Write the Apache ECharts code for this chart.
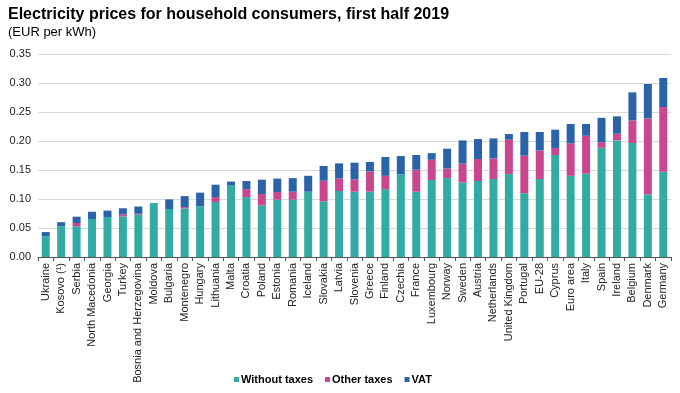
<!DOCTYPE html>
<html><head><meta charset="utf-8">
<script src="https://cdn.jsdelivr.net/npm/echarts@6/dist/echarts.min.js"></script>
<style>html,body{margin:0;padding:0;background:#fff}#c{width:680px;height:393px}</style>
</head><body><div id="c"></div>
<script>
const categories = ["Ukraine","Kosovo (¹)","Serbia","North Macedonia","Georgia","Turkey","Bosnia and Herzegovina","Moldova","Bulgaria","Montenegro","Hungary","Lithuania","Malta","Croatia","Poland","Estonia","Romania","Iceland","Slovakia","Latvia","Slovenia","Greece","Finland","Czechia","France","Luxembourg","Norway","Sweden","Austria","Netherlands","United Kingdom","Portugal","EU-28","Cyprus","Euro area","Italy","Spain","Ireland","Belgium","Denmark","Germany"];
const withoutTaxes = [0.036,0.053,0.053,0.0655,0.069,0.070,0.073,0.093,0.0828,0.0838,0.0873,0.0948,0.124,0.1034,0.089,0.0988,0.0988,0.1126,0.0959,0.1138,0.1126,0.1126,0.117,0.1424,0.1126,0.1327,0.136,0.1286,0.131,0.1345,0.143,0.110,0.1345,0.1759,0.140,0.1436,0.1884,0.201,0.1965,0.108,0.147];
const otherTaxes = [0,0,0.0056,0,0,0.0035,0.0015,0,0,0.0022,0,0.0086,0,0.0136,0.0196,0.0132,0.0138,0,0.0357,0.0217,0.0212,0.035,0.023,0,0.0379,0.035,0.0167,0.0323,0.038,0.0355,0.0592,0.0647,0.0493,0.0121,0.056,0.0654,0.0096,0.0116,0.039,0.131,0.1116];
const vat = [0.007,0.007,0.0109,0.0125,0.011,0.0105,0.0125,0,0.0165,0.019,0.0237,0.0213,0.006,0.014,0.0247,0.0232,0.0234,0.0274,0.0254,0.0259,0.0288,0.0162,0.0324,0.0316,0.0253,0.0113,0.034,0.0401,0.0344,0.0345,0.0098,0.0408,0.0317,0.0315,0.0333,0.0203,0.042,0.0299,0.0483,0.0593,0.05];
const yTicks = [0,0.05,0.10,0.15,0.20,0.25,0.30,0.35];

const chart = echarts.init(document.getElementById('c'), null, {renderer:'canvas'});
const ff = 'Liberation Sans, Arial, sans-serif';
chart.setOption({
  animation:false,
  textStyle:{fontFamily:ff},
  title:[
    {text:'Electricity prices for household consumers, first half 2019', left:3, top:2,
     textStyle:{fontFamily:ff,fontSize:16,fontWeight:'bold',color:'#000'}},
    {text:'(EUR per kWh)', left:3, top:21, textStyle:{fontFamily:ff,fontSize:13,fontWeight:'normal',color:'#000'}}
  ],
  legend:{bottom:3,left:229,itemWidth:5,itemHeight:5,itemGap:12,icon:'rect',
    textStyle:{fontFamily:ff,fontSize:11,fontWeight:'bold',color:'#000',padding:[0,0,0,-3]},
    data:['Without taxes','Other taxes','VAT']},
  grid:{left:38,right:9,top:54,bottom:136,containLabel:false},
  xAxis:{type:'category',data:categories,
    axisLine:{lineStyle:{color:'#555',width:1}},
    axisTick:{show:true,lineStyle:{color:'#555'},length:4},
    axisLabel:{rotate:90,interval:0,fontSize:11,color:'#222',fontFamily:ff,margin:6}},
  yAxis:{type:'value',min:0,max:0.35,interval:0.05,
    axisLine:{show:false},axisTick:{show:false},
    splitLine:{lineStyle:{color:'#d9d9d9',width:1}},
    axisLabel:{fontSize:11,color:'#222',fontFamily:ff,margin:7,formatter:v=>v.toFixed(2)}},
  series:[
    {name:'Without taxes',type:'bar',stack:'a',data:withoutTaxes,barWidth:8,itemStyle:{color:'#33aba5'}},
    {name:'Other taxes',type:'bar',stack:'a',data:otherTaxes,barWidth:8,itemStyle:{color:'#c8478e'}},
    {name:'VAT',type:'bar',stack:'a',data:vat,barWidth:8,itemStyle:{color:'#2b63a8'}}
  ]
});
</script></body></html>
